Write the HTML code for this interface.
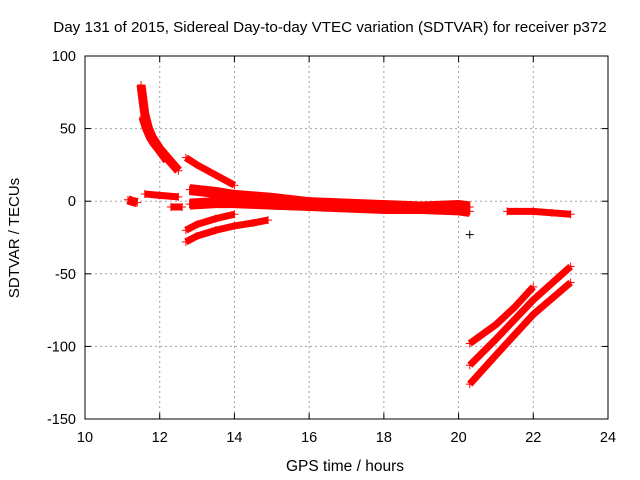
<!DOCTYPE html>
<html><head><meta charset="utf-8"><style>
body{margin:0;background:#fff}
svg{display:block;font-family:"Liberation Sans",sans-serif}
</style></head><body>
<svg id="chart" width="640" height="480">
<text x="330" y="32" text-anchor="middle" font-size="15.2">Day 131 of 2015, Sidereal Day-to-day VTEC variation (SDTVAR) for receiver p372</text>
<text x="345" y="471" text-anchor="middle" font-size="15.5">GPS time / hours</text>
<text transform="translate(19,238) rotate(-90)" text-anchor="middle" font-size="15">SDTVAR / TECUs</text>
<g id="grid"></g><g id="ticks"></g><g id="marks"></g>
<rect x="85" y="56" width="523" height="363" fill="none" stroke="#000" stroke-width="1"/>
</svg>
<script>
const xTicks=[10,12,14,16,18,20,22,24];
const yTicks=[100,50,0,-50,-100,-150];
const seriesSteep=[[11.5,80],[11.55,70],[11.6,60],[11.65,55],[11.7,50],[11.8,44],[11.9,40],[12.0,36],[12.2,30],[12.4,24],[12.5,21]];
const seriesSteep2=[[11.55,58],[11.65,50],[11.75,44],[11.85,40],[12.0,35],[12.2,28]];
const seriesUpper=[[12.7,30],[13.0,25],[13.5,18],[14.0,11]];
const seriesMainTop=[[12.8,8],[13.5,6],[14,4],[15,2],[16,-1],[17,-2],[18,-3],[19,-4],[20,-3],[20.3,-4]];
const seriesMainBottom=[[12.8,-2],[13.5,-1],[14,-1],[15,-2],[16,-3],[17,-4],[18,-5],[19,-5],[20,-6],[20.3,-7]];
const seriesCluster=[[11.15,1],[11.25,0],[11.4,-1]];
const seriesShortA=[[11.6,5],[12.0,4],[12.5,3]];
const seriesShortB=[[12.3,-4],[12.6,-4]];
const seriesLowA=[[12.7,-20],[13.0,-16],[13.5,-12],[14.0,-9]];
const seriesLowB=[[12.7,-28],[13.0,-24],[13.5,-20],[14.0,-17],[14.5,-15],[14.9,-13]];
const seriesIsolated=[[20.3,-23]];
const seriesLate=[[21.3,-7],[22,-7],[22.5,-8],[23,-9]];
const seriesRiseTop=[[20.3,-98],[21,-85],[21.5,-73],[22,-59]];
const seriesRiseMid=[[20.3,-113],[21,-95],[22,-68],[23,-45]];
const seriesRiseBottom=[[20.3,-126],[21,-106],[22,-78],[23,-56]];
const allSeries=[[seriesSteep,9],[seriesSteep2,9],[seriesUpper,7],[seriesMainTop,11],[seriesMainBottom,11],[seriesCluster,9],[seriesShortA,7],[seriesShortB,7],[seriesLowA,7],[seriesLowB,7],[seriesIsolated,0],[seriesLate,7],[seriesRiseTop,7],[seriesRiseMid,7],[seriesRiseBottom,7]];
const NS="http://www.w3.org/2000/svg";
const X=v=>85+(v-10)*523/14;
const Y=v=>56+(100-v)*363/250;
function mk(t,a,p){const e=document.createElementNS(NS,t);for(const k in a)e.setAttribute(k,a[k]);p.appendChild(e);return e;}
const grid=document.getElementById('grid'),ticks=document.getElementById('ticks'),marks=document.getElementById('marks');
xTicks.forEach(v=>{const x=X(v);
 if(v>10&&v<24){const l=mk('line',{x1:x,x2:x,y1:56,y2:419,stroke:'#a0a0a0','stroke-dasharray':'2,3'},grid);
 
 }
 mk('line',{x1:x,x2:x,y1:419,y2:413,stroke:'#000'},ticks);mk('line',{x1:x,x2:x,y1:56,y2:62,stroke:'#000'},ticks);
 const t=mk('text',{x:x,y:442,'text-anchor':'middle','font-size':14.5},ticks);t.textContent=v;
 
 });
yTicks.forEach(v=>{const y=Y(v);
 if(v<100&&v>-150){const l=mk('line',{x1:85,x2:608,y1:y,y2:y,stroke:'#a0a0a0','stroke-dasharray':'2,3'},grid);
 
 }
 mk('line',{x1:85,x2:91,y1:y,y2:y,stroke:'#000'},ticks);mk('line',{x1:608,x2:602,y1:y,y2:y,stroke:'#000'},ticks);
 const t=mk('text',{x:76,y:y+5,'text-anchor':'end','font-size':14.5},ticks);t.textContent=v;
 
 });
allSeries.forEach(([s,w])=>{
 if(w>0){const pl=mk('polyline',{points:s.map(p=>X(p[0])+','+Y(p[1])).join(' '),fill:'none',stroke:'#f00','stroke-width':w},marks);
 
 }
 s.forEach(p=>{const x=X(p[0]),y=Y(p[1]);
  const m=mk('path',{d:`M${x-4},${y}H${x+4}M${x},${y-4}V${y+4}`,stroke:w>0?'#f00':'#000','stroke-width':1},marks);
  
  });
});
</script>
</body></html>
